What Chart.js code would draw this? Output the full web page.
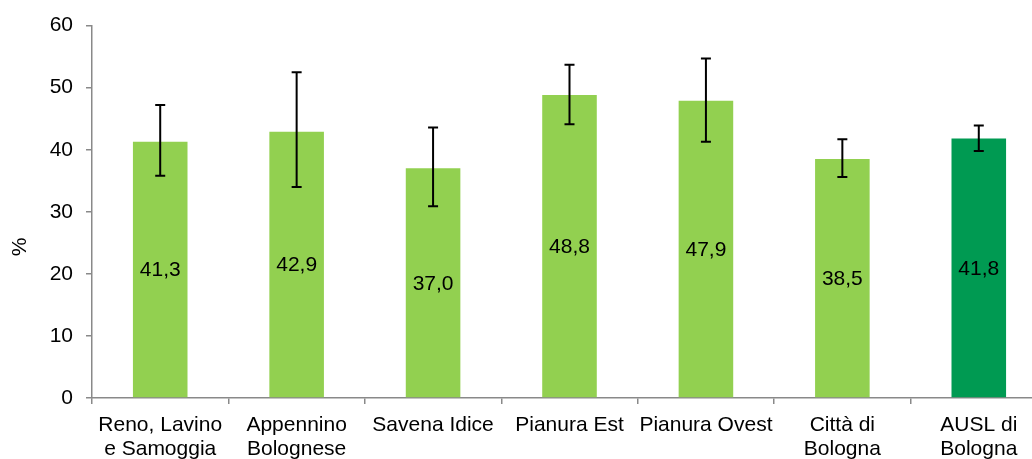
<!DOCTYPE html>
<html>
<head>
<meta charset="utf-8">
<script src="https://cdn.jsdelivr.net/npm/chart.js@4/dist/chart.umd.min.js"></script>
<style>
  html, body { margin: 0; padding: 0; background: #fff; overflow: hidden; }
  #wrap { width: 1032px; height: 459px; overflow: hidden; position: relative; }
  canvas { display: block; }
</style>
</head>
<body>
<div id="wrap"><canvas id="c" width="1048" height="459"></canvas></div>
<script>
const categories = [
  ['Reno, Lavino', 'e Samoggia'],
  ['Appennino', 'Bolognese'],
  'Savena Idice',
  'Pianura Est',
  'Pianura Ovest',
  ['Città di', 'Bologna'],
  ['AUSL di', 'Bologna']
];
const values = [41.3, 42.9, 37.0, 48.8, 47.9, 38.5, 41.8];
const lowerCI = [35.8, 34.0, 30.9, 44.1, 41.3, 35.6, 39.8];
const upperCI = [47.2, 52.5, 43.6, 53.7, 54.7, 41.7, 43.9];
const yTicks = [0, 10, 20, 30, 40, 50, 60];
const barColors = ['#92D050', '#92D050', '#92D050', '#92D050', '#92D050', '#92D050', '#009A52'];
const yTitle = '%';

const FONT = '"Liberation Sans", Arial, sans-serif';
const FS = 21;
const AXIS = '#898989';

const errorBars = {
  id: 'errorBars',
  afterDatasetsDraw(chart) {
    const ctx = chart.ctx;
    const meta = chart.getDatasetMeta(0);
    const y = chart.scales.y;
    ctx.save();
    ctx.strokeStyle = '#000';
    ctx.lineWidth = 2;
    meta.data.forEach((bar, i) => {
      const x = bar.x;
      const yl = y.getPixelForValue(lowerCI[i]);
      const yu = y.getPixelForValue(upperCI[i]);
      ctx.beginPath();
      ctx.moveTo(x, yl); ctx.lineTo(x, yu);
      ctx.moveTo(x - 5, yl); ctx.lineTo(x + 5, yl);
      ctx.moveTo(x - 5, yu); ctx.lineTo(x + 5, yu);
      ctx.stroke();
    });
    ctx.restore();
  }
};

const barLabels = {
  id: 'barLabels',
  afterDatasetsDraw(chart) {
    const ctx = chart.ctx;
    const meta = chart.getDatasetMeta(0);
    ctx.save();
    ctx.fillStyle = '#000';
    ctx.font = FS + 'px ' + FONT;
    ctx.textAlign = 'center';
    ctx.textBaseline = 'middle';
    meta.data.forEach((bar, i) => {
      const txt = values[i].toFixed(1).replace('.', ',');
      ctx.fillText(txt, bar.x, (bar.y + bar.base) / 2 + 1);
    });
    ctx.restore();
  }
};

const yTitlePlugin = {
  id: 'yTitlePlugin',
  afterDraw(chart) {
    const ctx = chart.ctx;
    ctx.save();
    ctx.translate(20, 247);
    ctx.rotate(-Math.PI / 2);
    ctx.fillStyle = '#000';
    ctx.font = FS + 'px ' + FONT;
    ctx.textAlign = 'center';
    ctx.textBaseline = 'middle';
    ctx.fillText(yTitle, 0, 0);
    ctx.restore();
  }
};

new Chart(document.getElementById('c'), {
  type: 'bar',
  data: {
    labels: categories,
    datasets: [{
      data: values,
      backgroundColor: barColors,
      borderWidth: 0,
      barPercentage: 0.4,
      categoryPercentage: 1.0
    }]
  },
  options: {
    responsive: false,
    animation: false,
    devicePixelRatio: 1,
    layout: { padding: { top: 24, right: 1, left: 0, bottom: 0 } },
    plugins: {
      legend: { display: false },
      tooltip: { enabled: false }
    },
    scales: {
      x: {
        grid: {
          drawOnChartArea: false,
          drawTicks: true,
          tickLength: 6,
          color: AXIS,
          lineWidth: 1.5,
          offset: true
        },
        border: { color: AXIS, width: 1.5 },
        ticks: {
          color: '#000',
          font: { family: FONT, size: FS, lineHeight: 24 / FS },
          padding: 9,
          autoSkip: false,
          maxRotation: 0,
          minRotation: 0
        },
        afterFit(scale) { scale.height = 61; }
      },
      y: {
        min: 0,
        max: 60,
        afterBuildTicks(scale) { scale.ticks = yTicks.map(v => ({ value: v })); },
        grid: {
          drawOnChartArea: false,
          drawTicks: true,
          tickLength: 6,
          color: AXIS,
          lineWidth: 1.5
        },
        border: { color: AXIS, width: 1.5 },
        ticks: {
          color: '#000',
          font: { family: FONT, size: FS },
          padding: 13
        },
        afterFit(scale) { scale.width = 92; }
      }
    }
  },
  plugins: [errorBars, barLabels, yTitlePlugin]
});
</script>
</body>
</html>
